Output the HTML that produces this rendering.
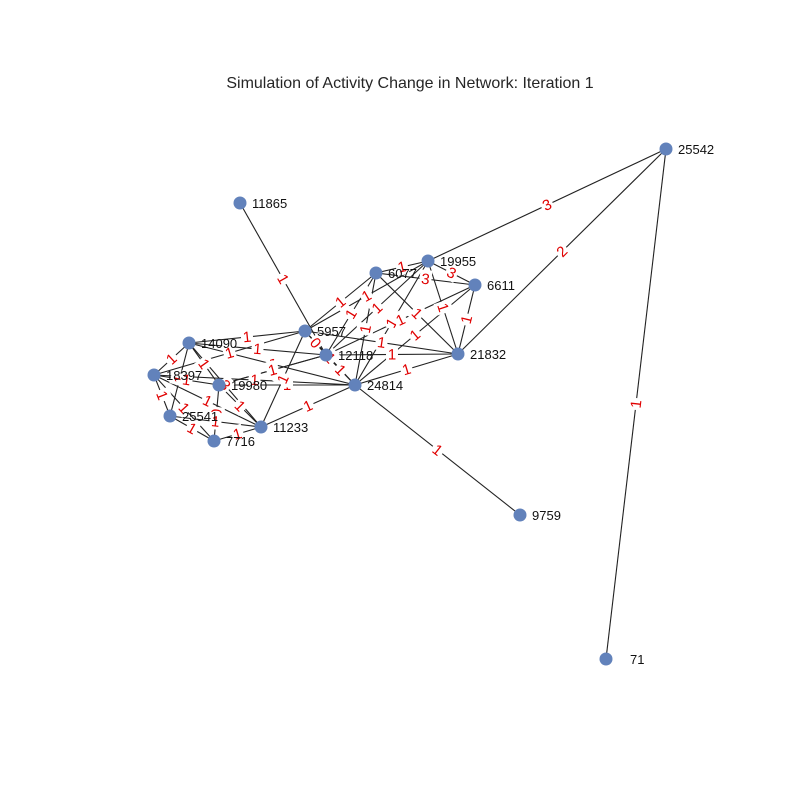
<!DOCTYPE html>
<html><head><meta charset="utf-8"><style>
html,body{margin:0;padding:0;background:#fff;}
svg{display:block;font-family:"Liberation Sans",sans-serif;}
</style></head><body>
<svg id="chart" width="800" height="800" viewBox="0 0 800 800">
<rect width="800" height="800" fill="#fff"/>
<text x="410" y="88" text-anchor="middle" font-size="16" fill="#262626">Simulation of Activity Change in Network: Iteration 1</text>
<g id="edges"></g><g id="elabels"></g><g id="nodes"></g>
</svg>
<script>
const nodeIds = ["25542","11865","19955","6077","6611","5957","14090","12118","21832","18397","19980","24814","25541","11233","7716","9759","71"];
const nodeX = [666,240,428,376,475,305,189,326,458,154,219,355,170,261,214,520,606];
const nodeY = [149,203,261,273,285,331,343,355,354,375,385,385,416,427,441,515,659];
const nodeLabels = ["25542","11865","19955","6077","6611","5957","14090","12118","21832","18397","19980","24814","25541","11233","7716","9759","71"];
const edgeSrc = ["25542","25542","25542","11865","24814","6077","6077","6077","6077","6077","6077","19955","19955","19955","19955","6611","6611","6611","5957","5957","5957","5957","5957","5957","12118","12118","12118","12118","21832","14090","14090","14090","14090","14090","18397","18397","18397","18397","18397","19980","19980","19980","25541","25541","7716","11233","5957","19980"];
const edgeDst = ["19955","21832","71","12118","9759","19955","6611","21832","24814","5957","12118","6611","21832","12118","24814","21832","12118","24814","12118","24814","14090","18397","21832","19955","24814","21832","14090","19980","24814","18397","19980","24814","25541","11233","19980","25541","7716","24814","11233","24814","7716","11233","7716","11233","11233","24814","11233","12118"];
const edgeVals = ["3","2","1","1","1","1","3","1","1","1","1","3","1","1","1","1","1","1","0","1","1","1","1","1","1","1","1","1","1","1","1","1","1","3","1","1","1","1","1","1","0","1","1","1","1","1","1","1"];
const NS="http://www.w3.org/2000/svg";
function px(id){return nodeX[nodeIds.indexOf(id)];}
function py(id){return nodeY[nodeIds.indexOf(id)];}
const gE=document.getElementById('edges'),gL=document.getElementById('elabels'),gN=document.getElementById('nodes');
edgeSrc.forEach((s,i)=>{
  const d=edgeDst[i];
  const x1=px(s),y1=py(s),x2=px(d),y2=py(d);
  const ln=document.createElementNS(NS,'line');
  ln.setAttribute('x1',x1);ln.setAttribute('y1',y1);ln.setAttribute('x2',x2);ln.setAttribute('y2',y2);
  ln.setAttribute('stroke','#222');ln.setAttribute('stroke-width','1.1');
  
  
  gE.appendChild(ln);
  const mx=(x1+x2)/2,my=(y1+y2)/2;
  let ang=Math.atan2(y2-y1,x2-x1)*180/Math.PI;
  if(ang>90)ang-=180; if(ang<-90)ang+=180;
  const g=document.createElementNS(NS,'g');
  g.setAttribute('transform',`translate(${mx},${my}) rotate(${ang})`);
  
  
  const r=document.createElementNS(NS,'rect');
  r.setAttribute('x',-6);r.setAttribute('y',-9);r.setAttribute('width',12);r.setAttribute('height',17);r.setAttribute('fill','#fff');
  g.appendChild(r);
  const t=document.createElementNS(NS,'text');
  t.setAttribute('text-anchor','middle');t.setAttribute('y',5);t.setAttribute('font-size','15');t.setAttribute('fill','#e00000');
  t.textContent=edgeVals[i];
  g.appendChild(t);
  gL.appendChild(g);
});
nodeIds.forEach((id,i)=>{
  const c=document.createElementNS(NS,'circle');
  c.setAttribute('cx',nodeX[i]);c.setAttribute('cy',nodeY[i]);c.setAttribute('r',6.5);c.setAttribute('fill','#6282bb');
  
  
  gN.appendChild(c);
  const t=document.createElementNS(NS,'text');
  t.setAttribute('x',nodeX[i]+(id==="71"?24:12));t.setAttribute('y',nodeY[i]+5);t.setAttribute('font-size','13');t.setAttribute('fill','#111');
  t.textContent=nodeLabels[i];
  
  
  gN.appendChild(t);
});
</script>
</body></html>
